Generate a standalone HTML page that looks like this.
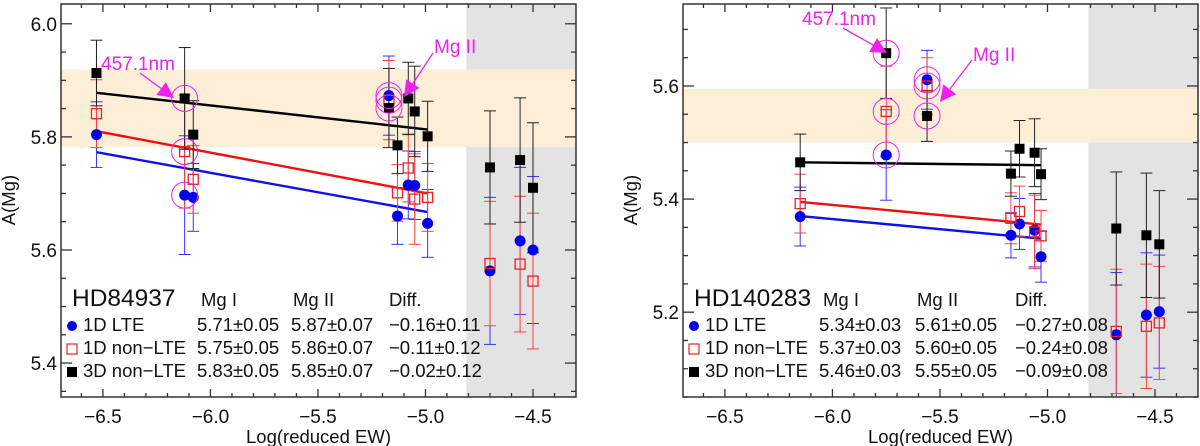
<!DOCTYPE html>
<html><head><meta charset="utf-8"><style>
html,body{margin:0;padding:0;background:#fff;}
svg{display:block;font-family:"Liberation Sans",sans-serif;}
</style></head><body>
<svg id="chart" width="1200" height="446" viewBox="0 0 1200 446" xmlns="http://www.w3.org/2000/svg"></svg>
<script>
// ===== Panel 1: HD84937 =====
const p1LogEW = [-6.53,-6.12,-6.08,-5.17,-5.13,-5.08,-5.05,-4.99,-4.70,-4.56,-4.50];
const p1Lte   = [5.804,5.697,5.693,5.873,5.660,5.715,5.714,5.647,5.563,5.616,5.600];
const p1LteErr= [0.058,0.105,0.06,0.07,0.05,0.06,0.06,0.06,0.13,0.13,0.13];
const p1Nlte  = [5.841,5.774,5.725,5.865,5.701,5.745,5.690,5.693,5.576,5.575,5.545];
const p1NlteErr=[0.06,0.10,0.06,0.07,0.05,0.06,0.08,0.06,0.11,0.12,0.12];
const p13d    = [5.913,5.868,5.804,5.851,5.785,5.868,5.845,5.801,5.746,5.759,5.710];
const p13dErr = [0.058,0.09,0.06,0.07,0.05,0.064,0.08,0.062,0.10,0.11,0.115];
const p1FitX  = [-6.53,-4.99];
const p1FitLte= [5.773,5.667];
const p1FitNlte=[5.810,5.700];
const p1Fit3d = [5.878,5.813];
const p1Band  = [5.782,5.919];
const p1Circled=[1,3];
const p1YTicks=[5.4,5.6,5.8,6.0];
const p1Stats = [["5.71±0.05","5.87±0.07","−0.16±0.11"],["5.75±0.05","5.86±0.07","−0.11±0.12"],["5.83±0.05","5.85±0.07","−0.02±0.12"]];

// ===== Panel 2: HD140283 =====
const p2LogEW = [-6.15,-5.75,-5.56,-5.17,-5.13,-5.06,-5.03,-4.68,-4.54,-4.48];
const p2Lte   = [5.369,5.478,5.611,5.336,5.356,5.345,5.298,5.160,5.195,5.201];
const p2LteErr= [0.052,0.08,0.052,0.04,0.045,0.065,0.045,0.11,0.11,0.10];
const p2Nlte  = [5.392,5.555,5.600,5.366,5.378,5.342,5.335,5.166,5.175,5.181];
const p2NlteErr=[0.052,0.08,0.05,0.045,0.045,0.065,0.045,0.11,0.11,0.10];
const p23d    = [5.465,5.658,5.547,5.445,5.489,5.482,5.444,5.348,5.336,5.320];
const p23dErr = [0.05,0.08,0.045,0.04,0.05,0.06,0.045,0.10,0.11,0.095];
const p2FitX  = [-6.15,-5.03];
const p2FitLte= [5.370,5.330];
const p2FitNlte=[5.395,5.355];
const p2Fit3d = [5.465,5.460];
const p2Band  = [5.500,5.595];
const p2Circled=[1,2];
const p2YTicks=[5.2,5.4,5.6];
const p2Stats = [["5.34±0.03","5.61±0.05","−0.27±0.08"],["5.37±0.03","5.60±0.05","−0.24±0.08"],["5.46±0.03","5.55±0.05","−0.09±0.08"]];

const xTicks=[-6.5,-6.0,-5.5,-5.0,-4.5];
const seriesNames=["1D LTE","1D non−LTE","3D non−LTE"];

const NS="http://www.w3.org/2000/svg";
const svg=document.getElementById('chart');
function mk(tag,attrs,parent,text){const e=document.createElementNS(NS,tag);for(const k in attrs)e.setAttribute(k,attrs[k]);if(text!==undefined)e.textContent=text;(parent||svg).appendChild(e);return e;}

function panel(cfg){
  const g=mk('g',{});
  
  
  const L=cfg.left,R=cfg.left+515,T=4,B=397;
  const x0=-6.695,x1=-4.3;
  const sx=v=>L+(v-x0)/(x1-x0)*(R-L);
  const sy=v=>B-(v-cfg.y0)/(cfg.y1-cfg.y0)*(B-T);
  const gr=mk('rect',{x:sx(-4.81),y:T,width:R-sx(-4.81),height:B-T,fill:'#e3e3e3'},g);
  
  
  const bd=mk('rect',{x:L,y:sy(cfg.band[1]),width:sx(-4.81)-L,height:sy(cfg.band[0])-sy(cfg.band[1]),fill:'#fdefd7'},g);
  
  
  const bd2=mk('rect',{x:sx(-4.81),y:sy(cfg.band[1]),width:R-sx(-4.81),height:sy(cfg.band[0])-sy(cfg.band[1]),fill:'#fdefd7'},g);
  
  
  const ax=mk('g',{stroke:'#333','stroke-width':1.3},g);
  
  
  for(let v=-6.6;v<=-4.35;v+=0.1){const X=sx(v);const major=Math.abs(v*2-Math.round(v*2))<0.01;const len=major?8:4;
    mk('line',{x1:X,x2:X,y1:B,y2:B-len},ax);mk('line',{x1:X,x2:X,y1:T,y2:T+len},ax);}
  for(let v=Math.ceil(cfg.y0*20)/20;v<=cfg.y1;v+=0.05){const Y=sy(v);const major=Math.abs(v*5-Math.round(v*5))<0.01;const len=major?11:5;
    mk('line',{x1:L,x2:L+len,y1:Y,y2:Y},ax);mk('line',{x1:R,x2:R-len,y1:Y,y2:Y},ax);}
  xTicks.forEach(v=>{const t=mk('text',{x:sx(v),y:423,'font-size':19,'text-anchor':'middle',fill:'#111'},g,'−'+Math.abs(v).toFixed(1));
    
    });
  cfg.yTicks.forEach(v=>{const t=mk('text',{x:L-4,y:sy(v)+7,'font-size':19,'text-anchor':'end',fill:'#111'},g,v.toFixed(1));
    
    });
  const xt=mk('text',{x:(L+R)/2,y:443,'font-size':18.5,'text-anchor':'middle',fill:'#111'},g,'Log(reduced EW)');
  
  
  const yt=mk('text',{x:0,y:0,'font-size':18.5,'text-anchor':'middle',fill:'#111',transform:`translate(${L-46},200) rotate(-90)`},g,'A(Mg)');
  
  
  const fits=[[cfg.fitLte,'#1010ee'],[cfg.fitNlte,'#ee1010'],[cfg.fit3d,'#000']];
  fits.forEach(([f,c],i)=>{const l=mk('line',{x1:sx(cfg.fitX[0]),y1:sy(f[0]),x2:sx(cfg.fitX[1]),y2:sy(f[1]),stroke:c,'stroke-width':2.4},g);
    
    });
  const ser=[[cfg.lte,cfg.lteErr,'#3333ff','lte'],[cfg.nlte,cfg.nlteErr,'#ff4040','nlte'],[cfg.d3,cfg.d3Err,'#222','3d']];
  ser.forEach(([vals,errs,c,nm])=>{
    vals.forEach((v,i)=>{const X=sx(cfg.xs[i]);const e=mk('g',{stroke:c,'stroke-width':1},g);
      
      
      const y1=sy(v+errs[i]),y2=sy(v-errs[i]);
      mk('line',{x1:X,x2:X,y1:y1,y2:y2},e);mk('line',{x1:X-6,x2:X+6,y1:y1,y2:y1},e);mk('line',{x1:X-6,x2:X+6,y1:y2,y2:y2},e);});
  });
  cfg.lte.forEach((v,i)=>{const m=mk('circle',{cx:sx(cfg.xs[i]),cy:sy(v),r:5.5,fill:'#0000ee'},g);
    
    });
  cfg.nlte.forEach((v,i)=>{const X=sx(cfg.xs[i]),Y=sy(v);const m=mk('rect',{x:X-5,y:Y-5,width:10,height:10,fill:'none',stroke:'#ee2020','stroke-width':1.3},g);
    
    });
  cfg.d3.forEach((v,i)=>{const X=sx(cfg.xs[i]),Y=sy(v);const m=mk('rect',{x:X-5,y:Y-5,width:10,height:10,fill:'#000'},g);
    
    });
  cfg.circled.forEach(i=>{[cfg.lte,cfg.nlte,cfg.d3].forEach(arr=>{
    const c=mk('circle',{cx:sx(cfg.xs[i]),cy:sy(arr[i]),r:13,fill:'none',stroke:'#ee22ee','stroke-width':1},g);
    
    });});
  cfg.notes.forEach(n=>{const a=mk('g',{},g);
    
    
    mk('text',{x:n.tx,y:n.ty,'font-size':19,fill:'#ee22ee'},a,n.t);
    const dx=n.x2-n.x1,dy=n.y2-n.y1,len=Math.hypot(dx,dy),ux=dx/len,uy=dy/len;
    const bx=n.x2-ux*16,by=n.y2-uy*16;
    mk('line',{x1:n.x1,y1:n.y1,x2:bx,y2:by,stroke:'#ee22ee','stroke-width':1.3},a);
    mk('polygon',{points:`${n.x2},${n.y2} ${bx-uy*8},${by+ux*8} ${bx+uy*8},${by-ux*8}`,fill:'#ee22ee'},a);});
  const lg=mk('g',{fill:'#111'},g);
  
  
  mk('text',{x:L+11,y:306,'font-size':24.5},lg,cfg.star);
  mk('text',{x:cfg.cols[0]+4,y:306,'font-size':18.5},lg,'Mg I');
  mk('text',{x:cfg.cols[1]+2,y:306,'font-size':18.5},lg,'Mg II');
  mk('text',{x:cfg.cols[2],y:306,'font-size':18.5},lg,'Diff.');
  const rows=[331,354,377];
  rows.forEach((ry,k)=>{const sxp=L+11;
    let s;
    if(k===0)s=mk('circle',{cx:sxp,cy:ry-5,r:5,fill:'#0000ee'},lg);
    else if(k===1)s=mk('rect',{x:sxp-5,y:ry-10,width:10,height:10,fill:'none',stroke:'#ee2020','stroke-width':1.2},lg);
    else s=mk('rect',{x:sxp-5,y:ry-10,width:10,height:10,fill:'#000'},lg);
    
    
    const t=mk('text',{x:L+22,y:ry,'font-size':18.5},lg,seriesNames[k]);
    
    
    cfg.stats[k].forEach((sv,j)=>mk('text',{x:cfg.cols[j],y:ry,'font-size':18.5},lg,sv));});
  const fr=mk('rect',{x:L,y:T,width:R-L,height:B-T,fill:'none',stroke:'#333','stroke-width':1.5},g);
  
  
}

panel({name:'panel-hd84937',left:61,y0:5.34,y1:6.035,band:p1Band,xs:p1LogEW,lte:p1Lte,lteErr:p1LteErr,nlte:p1Nlte,nlteErr:p1NlteErr,d3:p13d,d3Err:p13dErr,
  fitX:p1FitX,fitLte:p1FitLte,fitNlte:p1FitNlte,fit3d:p1Fit3d,circled:p1Circled,yTicks:p1YTicks,stats:p1Stats,star:'HD84937',cols:[197,291,389],
  notes:[{t:'457.1nm',tx:101,ty:70,x1:140,y1:73,x2:174,y2:98},{t:'Mg II',tx:434,ty:53,x1:433,y1:53,x2:404,y2:97}]});
panel({name:'panel-hd140283',left:683,y0:5.05,y1:5.745,band:p2Band,xs:p2LogEW,lte:p2Lte,lteErr:p2LteErr,nlte:p2Nlte,nlteErr:p2NlteErr,d3:p23d,d3Err:p23dErr,
  fitX:p2FitX,fitLte:p2FitLte,fitNlte:p2FitNlte,fit3d:p2Fit3d,circled:p2Circled,yTicks:p2YTicks,stats:p2Stats,star:'HD140283',cols:[819,915,1015],
  notes:[{t:'457.1nm',tx:802,ty:25,x1:843,y1:28,x2:887,y2:53},{t:'Mg II',tx:973,ty:61,x1:972,y1:60,x2:940,y2:102}]});
</script>
</body></html>
